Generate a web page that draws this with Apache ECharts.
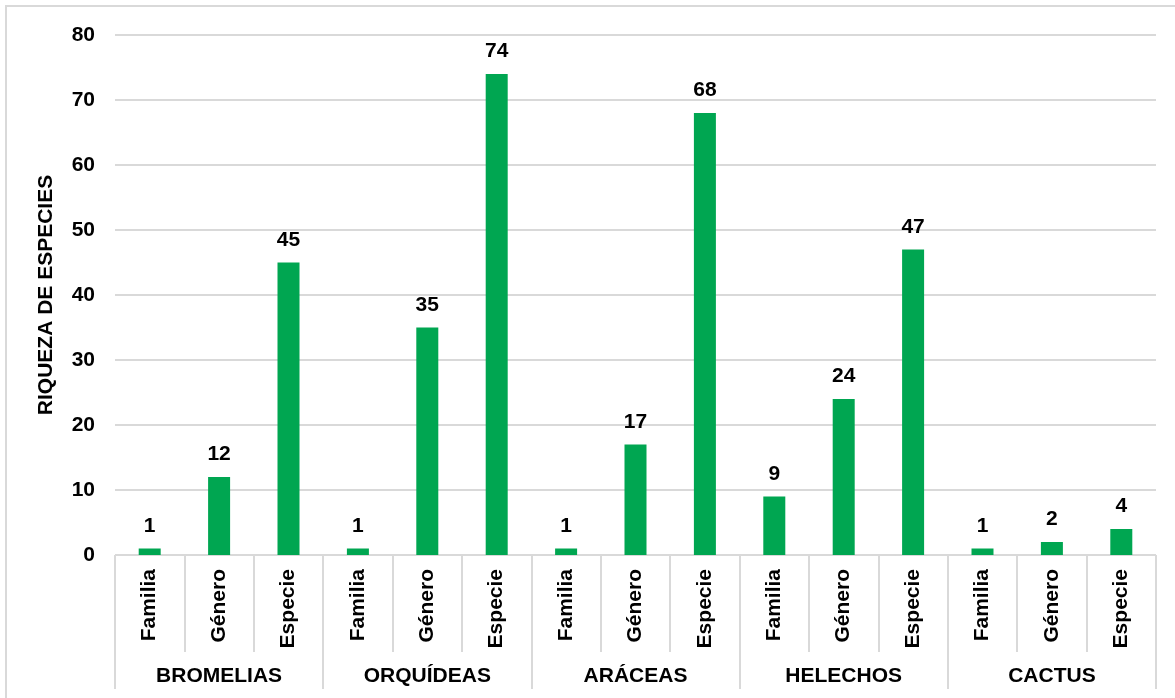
<!DOCTYPE html>
<html>
<head>
<meta charset="utf-8">
<script src="https://cdn.jsdelivr.net/npm/echarts@6/dist/echarts.min.js"></script>
<style>
html,body{margin:0;padding:0;background:#fff;}
#c{width:1175px;height:698px;}
</style>
</head>
<body>
<div id="c"></div>
<script>
const groups = ['BROMELIAS', 'ORQUÍDEAS', 'ARÁCEAS', 'HELECHOS', 'CACTUS'];
const levels = ['Familia', 'Género', 'Especie'];
const values = [1, 12, 45, 1, 35, 74, 1, 17, 68, 9, 24, 47, 1, 2, 4];
const yTicks = [0, 10, 20, 30, 40, 50, 60, 70, 80];

const cats = [];
groups.forEach(g => levels.forEach(l => cats.push(l)));

const FONT = '"Liberation Sans", Arial, sans-serif';
const chart = echarts.init(document.getElementById('c'));
chart.setOption({
  animation: false,
  backgroundColor: '#fff',
  grid: { left: 115, right: 19, top: 35, bottom: 143 },
  graphic: [{
    type: 'rect', shape: { x: 6, y: 6, width: 1190, height: 720 },
    style: { fill: 'none', stroke: '#d9d9d9', lineWidth: 2 }, silent: true, z: -1
  }],
  xAxis: [{
    type: 'category', data: cats, position: 'bottom',
    axisLine: { show: true, lineStyle: { color: '#d9d9d9', width: 1 } },
    axisTick: { show: true, interval: 0, length: 97, lineStyle: { color: '#d9d9d9', width: 2 } },
    axisLabel: { interval: 0, rotate: 90, margin: 14, color: '#000', fontFamily: FONT, fontWeight: 'bold', fontSize: 21 }
  }, {
    type: 'category', data: groups, position: 'bottom', offset: 0,
    axisLine: { show: false },
    axisTick: { show: true, interval: 0, length: 134, lineStyle: { color: '#d9d9d9', width: 2 } },
    axisLabel: { interval: 0, margin: 111, color: '#000', fontFamily: FONT, fontWeight: 'bold', fontSize: 21 }
  }],
  yAxis: {
    type: 'value', min: 0, max: 80, interval: 10,
    name: 'RIQUEZA DE ESPECIES', nameLocation: 'middle', nameRotate: 90, nameGap: 58,
    nameTextStyle: { color: '#000', fontFamily: FONT, fontWeight: 'bold', fontSize: 21 },
    axisLine: { show: false }, axisTick: { show: false },
    axisLabel: { margin: 20, color: '#000', fontFamily: FONT, fontWeight: 'bold', fontSize: 21,
      formatter: v => yTicks.includes(v) ? String(v) : '' },
    splitLine: { lineStyle: { color: '#d9d9d9', width: 2 } }
  },
  series: [{
    type: 'bar', xAxisIndex: 0, data: values, barWidth: 22,
    itemStyle: { color: '#00a651' },
    label: { show: true, position: 'top', distance: 12, color: '#000', fontFamily: FONT, fontWeight: 'bold', fontSize: 21 }
  }]
});
</script>
</body>
</html>
